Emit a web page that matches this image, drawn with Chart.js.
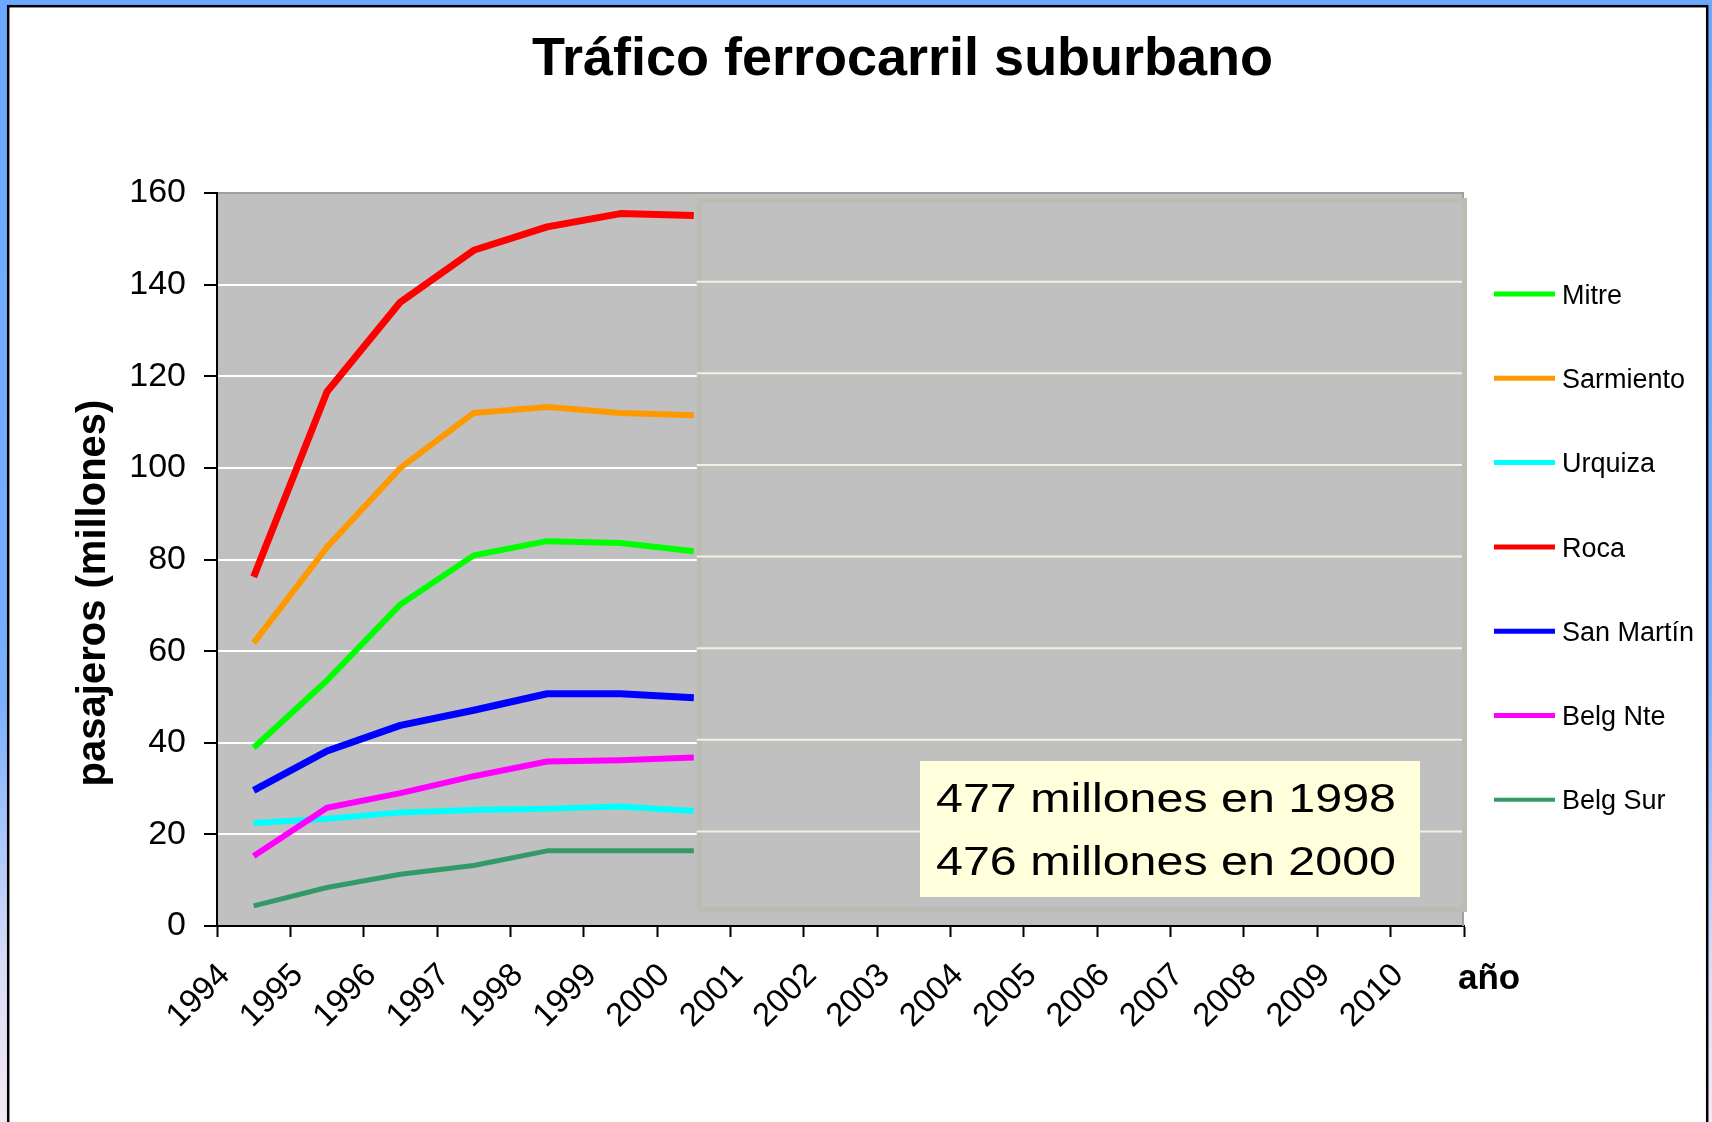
<!DOCTYPE html>
<html>
<head>
<meta charset="utf-8">
<script src="https://cdn.jsdelivr.net/npm/chart.js@4.4.1/dist/chart.umd.min.js"></script>
<style>
html,body{margin:0;padding:0;background:#6aa9ff;overflow:hidden}
canvas{display:block}
</style>
</head>
<body>
<canvas id="c" width="1712" height="1122"></canvas>
<script>
// ---- data ----
const years = ['1994','1995','1996','1997','1998','1999','2000','2001','2002','2003','2004','2005','2006','2007','2008','2009','2010'];
const seriesNames = ['Mitre','Sarmiento','Urquiza','Roca','San Martín','Belg Nte','Belg Sur'];
const seriesColors = ['#00ff00','#ff9900','#00ffff','#ff0000','#0000ff','#ff00ff','#339966'];
const mitre     = [38.9, 53.6, 70.2, 80.9, 84.0, 83.6, 81.8];
const sarmiento = [61.8, 82.7, 100.0, 112.0, 113.3, 112.0, 111.5];
const urquiza   = [22.5, 23.4, 24.8, 25.3, 25.6, 26.1, 25.1];
const roca      = [76.2, 116.6, 136.2, 147.5, 152.6, 155.5, 155.1];
const sanMartin = [29.6, 38.2, 43.8, 47.1, 50.7, 50.7, 49.8];
const belgNte   = [15.3, 25.8, 29.0, 32.7, 35.9, 36.2, 36.8];
const belgSur   = [4.4, 8.4, 11.3, 13.2, 16.4, 16.4, 16.4];
const yTicks = [0, 20, 40, 60, 80, 100, 120, 140, 160];
const titleText = 'Tráfico ferrocarril suburbano';
const yTitleText = 'pasajeros (millones)';
const xTitleText = 'año';
const noteLines = ['477 millones en 1998', '476 millones en 2000'];

const seriesData = [mitre, sarmiento, urquiza, roca, sanMartin, belgNte, belgSur];
const lineWidths = [6, 6, 6, 7, 7, 6, 5];
const drawOrder = [1, 1, 2, 1, 1, 0, 1];

const FONT = '"Liberation Sans", Arial, sans-serif';

const deco = {
  id: 'deco',
  beforeDraw(chart) {
    const ctx = chart.ctx;
    const W = chart.width, H = chart.height;
    ctx.save();
    const g = ctx.createLinearGradient(0, 0, 0, H);
    g.addColorStop(0, '#6aa9ff');
    g.addColorStop(0.62, '#78afff');
    g.addColorStop(0.86, '#d9dcf6');
    g.addColorStop(1, '#f5e8f4');
    ctx.fillStyle = g;
    ctx.fillRect(0, 0, W, H);
    ctx.fillStyle = '#ffffff';
    ctx.fillRect(8, 6, 1699, H);
    ctx.strokeStyle = '#000000';
    ctx.lineWidth = 2.5;
    ctx.strokeRect(8.2, 6.2, 1699, H + 20);
    const a = chart.chartArea;
    ctx.fillStyle = '#c0c0c0';
    ctx.fillRect(a.left, a.top, a.right - a.left, a.bottom - a.top);
    ctx.restore();
  },
  beforeDatasetsDraw(chart) {
    const ctx = chart.ctx, a = chart.chartArea;
    ctx.save();
    ctx.strokeStyle = '#a0a0a0';
    ctx.lineWidth = 2;
    ctx.beginPath();
    ctx.moveTo(a.right - 1, a.top);
    ctx.lineTo(a.right - 1, a.bottom);
    ctx.stroke();
    ctx.restore();
  },
  afterDatasetsDraw(chart) {
    const ctx = chart.ctx, a = chart.chartArea;
    const xs = chart.scales.x, ys = chart.scales.y;
    const left = xs.getPixelForValue(6) + 3;
    const right = a.right + 3;
    const top = a.top + 5;
    const bottom = a.bottom - 14;
    ctx.save();
    ctx.fillStyle = '#bcbcb5';
    ctx.fillRect(left, top, right - left, bottom - top);
    ctx.fillStyle = '#c0c0c0';
    ctx.fillRect(left + 5, top + 5, right - left - 10, bottom - top - 10);
    ctx.strokeStyle = '#f2f2e4';
    ctx.lineWidth = 2;
    for (const v of yTicks) {
      if (v === 0 || v === 160) continue;
      const y = ys.getPixelForValue(v) - 3;
      ctx.beginPath();
      ctx.moveTo(left, y);
      ctx.lineTo(right - 5, y);
      ctx.stroke();
    }
    // note box
    ctx.fillStyle = '#ffffdc';
    ctx.fillRect(920, 761, 500, 136);
    ctx.fillStyle = '#000';
    ctx.font = '41px ' + FONT;
    ctx.textBaseline = 'alphabetic';
    ctx.textAlign = 'left';
    noteLines.forEach((t, i) => {
      ctx.save();
      ctx.translate(936, 812 + i * 63);
      ctx.scale(1.18, 1);
      ctx.fillText(t, 0, 0);
      ctx.restore();
    });
    ctx.restore();
  },
  afterDraw(chart) {
    const ctx = chart.ctx;
    ctx.save();
    ctx.fillStyle = '#000';
    // title
    ctx.font = 'bold 54px ' + FONT;
    ctx.textAlign = 'center';
    ctx.textBaseline = 'alphabetic';
    ctx.fillText(titleText, 902.5, 75);
    // y title
    ctx.save();
    ctx.translate(105, 593);
    ctx.rotate(-Math.PI / 2);
    ctx.font = 'bold 40px ' + FONT;
    ctx.textAlign = 'center';
    ctx.fillText(yTitleText, 0, 0);
    ctx.restore();
    // x title
    ctx.font = 'bold 35px ' + FONT;
    ctx.textAlign = 'left';
    ctx.fillText(xTitleText, 1458, 989);
    // legend
    ctx.font = '27px ' + FONT;
    chart.data.datasets.forEach((ds, i) => {
      const y = 294 + i * 84.3;
      ctx.strokeStyle = ds.borderColor;
      ctx.lineWidth = i === 6 ? 4 : 5;
      ctx.beginPath();
      ctx.moveTo(1494, y);
      ctx.lineTo(1555, y);
      ctx.stroke();
      ctx.fillStyle = '#000';
      ctx.fillText(ds.label, 1562, y + 9.6);
    });
    ctx.restore();
  }
};

const datasets = seriesNames.map((n, i) => ({
  label: n,
  data: seriesData[i],
  borderColor: seriesColors[i],
  backgroundColor: seriesColors[i],
  borderWidth: lineWidths[i],
  pointRadius: 0,
  pointHoverRadius: 0,
  tension: 0,
  fill: false,
  borderCapStyle: 'butt',
  borderJoinStyle: 'round',
  order: drawOrder[i]
}));

new Chart(document.getElementById('c'), {
  type: 'line',
  data: { labels: years, datasets },
  options: {
    responsive: false,
    animation: false,
    devicePixelRatio: 1,
    events: [],
    layout: { padding: { left: 97, right: 248, top: 193, bottom: 0 } },
    plugins: { legend: { display: false }, title: { display: false }, tooltip: { enabled: false } },
    scales: {
      x: {
        type: 'category',
        offset: true,
        grid: { offset: true, drawOnChartArea: false, drawTicks: true, tickLength: 11, tickWidth: 2, tickColor: '#000', color: '#000' },
        border: { display: true, color: '#000', width: 2 },
        ticks: { autoSkip: false, maxRotation: 45, minRotation: 45, color: '#000', font: { family: FONT, size: 33 }, padding: 19, labelOffset: -29 },
        afterFit: s => { s.height = 196; }
      },
      y: {
        min: 0, max: 160,
        afterBuildTicks: s => { s.ticks = yTicks.map(v => ({ value: v })); },
        grid: {
          color: c => (c.tick && c.tick.value === 160) ? '#a0a0a0' : (c.tick && c.tick.value === 0 ? 'rgba(0,0,0,0)' : '#ffffff'),
          lineWidth: 2, drawTicks: true, tickLength: 13, tickWidth: 2, tickColor: '#000'
        },
        border: { display: true, color: '#000', width: 2 },
        ticks: { color: '#000', font: { family: FONT, size: 34 }, padding: 18 },
        afterFit: s => { s.width = 120; }
      }
    }
  },
  plugins: [deco]
});
</script>
</body>
</html>
